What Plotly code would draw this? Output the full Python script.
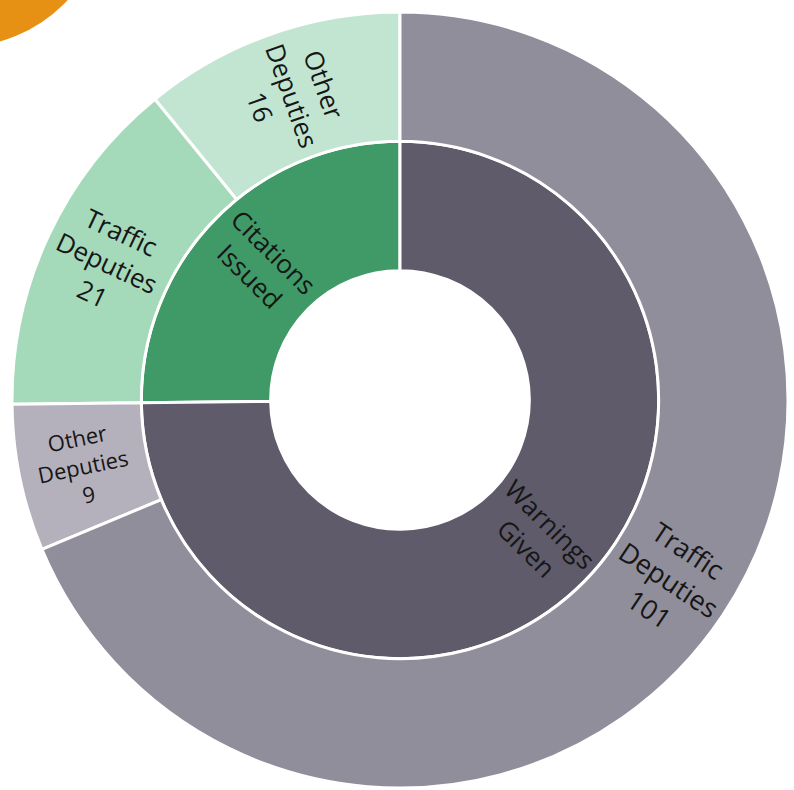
import math
import plotly.graph_objects as go

# Hierarchy: total -> outcome -> deputy group
ids = ["total", "cit", "warn", "cit_other", "cit_traffic", "warn_other", "warn_traffic"]
parents = ["", "total", "total", "cit", "cit", "warn", "warn"]
labels = ["", "Citations Issued", "Warnings Given",
          "Other Deputies", "Traffic Deputies", "Other Deputies", "Traffic Deputies"]
values = [147, 37, 110, 16, 21, 9, 101]
texts = ["", "Citations<br>Issued", "Warnings<br>Given",
         "Other<br>Deputies<br>16", "Traffic<br>Deputies<br>21",
         "Other<br>Deputies<br>9", "Traffic<br>Deputies<br>101"]
colors = ["#FFFFFF", "#3F9A67", "#5F5B6B", "#C2E5D1", "#A4D9BA", "#B4B1BC", "#918E9C"]
font_sizes = [0, 26, 26, 26, 26, 22, 27]

W, H = 794, 790
cx, cy, R = 400, 400, 388
FONT = "Open Sans, Noto Sans, sans-serif"

fig = go.Figure(go.Sunburst(
    ids=ids,
    parents=parents,
    labels=labels,
    values=values,
    branchvalues="total",
    sort=False,
    rotation=90,
    textinfo="none",
    leaf=dict(opacity=1),
    marker=dict(colors=colors, line=dict(color="white", width=3)),
    hoverinfo="label+value",
    domain=dict(x=[(cx - R) / W, (cx + R) / W], y=[1 - (cy + R) / H, 1 - (cy - R) / H]),
))

# Radial labels: sectors run clockwise from 12 o'clock (warnings first),
# each label sits at the middle of its sector and ring.
ring = R / 3.0
depth = {"total": 0}
for i, p in zip(ids, parents):
    if p:
        depth[i] = depth[p] + 1

start = {"total": 0.0}
cursor = {"total": 0.0}
# clockwise order: warnings (traffic, other) then citations (traffic, other)
order = ["warn", "warn_traffic", "warn_other", "cit", "cit_traffic", "cit_other"]
val = dict(zip(ids, values))
par = dict(zip(ids, parents))
for node in order:
    p = par[node]
    s = cursor[p]
    start[node] = s
    cursor[p] = s + val[node]
    cursor[node] = s

total = val["total"]
for i, node in enumerate(ids):
    if node == "total":
        continue
    mid = (start[node] + val[node] / 2.0) / total * 360.0  # clockwise from top
    r = ring * (depth[node] + 0.5)
    x = cx + r * math.sin(math.radians(mid))
    y = cy - r * math.cos(math.radians(mid))
    ang = mid - 90 if mid <= 180 else mid - 270
    fig.add_annotation(
        x=x / W, y=1 - y / H, xref="paper", yref="paper",
        text=texts[i], showarrow=False, textangle=ang,
        xanchor="center", yanchor="middle", align="center",
        font=dict(family=FONT, size=font_sizes[i], color="#161616"),
    )

# orange accent disc peeking in at the top-left corner
ox, oy, orad = -40, -100, 147
fig.add_shape(
    type="circle", xref="paper", yref="paper",
    x0=(ox - orad) / W, x1=(ox + orad) / W,
    y0=1 - (oy + orad) / H, y1=1 - (oy - orad) / H,
    fillcolor="#E69014", line=dict(width=0), layer="below",
)

fig.update_layout(
    width=W, height=H,
    margin=dict(l=0, r=0, t=0, b=0),
    paper_bgcolor="white",
    plot_bgcolor="white",
    showlegend=False,
)

fig.write_html("out.html")
